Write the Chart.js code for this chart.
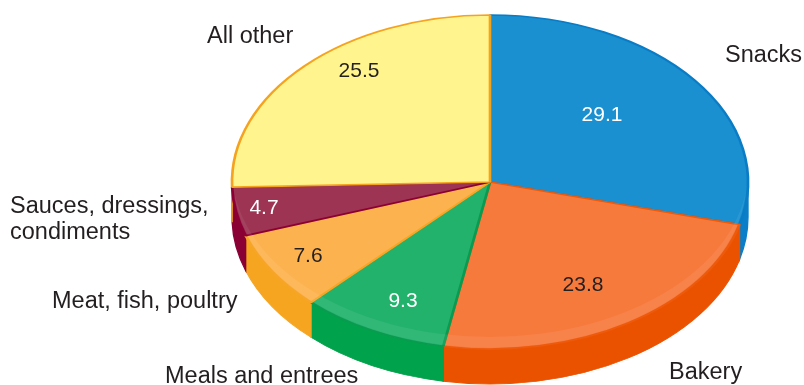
<!DOCTYPE html>
<html>
<head>
<meta charset="utf-8">
<script src="https://cdn.jsdelivr.net/npm/chart.js@4/dist/chart.umd.min.js"></script>
<style>
  html, body { margin: 0; padding: 0; background: #ffffff; }
  #wrap { position: relative; width: 804px; height: 385px; }
</style>
</head>
<body>
<div id="wrap"><canvas id="chart" width="804" height="385"></canvas></div>
<script>
// Market share by food category (percent)
const categories = ['Snacks', 'Bakery', 'Meals and entrees', 'Meat, fish, poultry', 'Sauces, dressings, condiments', 'All other'];
const shares = [29.1, 23.8, 9.3, 7.6, 4.7, 25.5];
const labelLines = [['Snacks'], ['Bakery'], ['Meals and entrees'], ['Meat, fish, poultry'], ['Sauces, dressings,', 'condiments'], ['All other']];

// Slice styling: top face, rim/border and side wall
const topColors  = ['#1a90d0', '#f77a3d', '#22b26c', '#fcb34f', '#9d3453', '#fff48d'];
const edgeColors = ['#0a7cc6', '#ee5a0c', '#0a9b50', '#f7a525', '#8c0036', '#f5a31f'];
const wallColors = ['#0a7ec8', '#eb5200', '#00a24b', '#f6a520', '#8a0035', '#f5a31f'];
const valueColors = ['#ffffff', '#231f20', '#ffffff', '#231f20', '#ffffff', '#231f20'];

// Tilted pie geometry (screen pixels)
const CX = 490, CY = 182, RX = 258, RY = 167, DEPTH = 35, SHEEN = 12;

// Text placement (screen pixels)
const valuePos = [[602, 115], [583, 285], [403, 301], [308, 256], [264, 208], [359, 71]];
const namePos  = [[725, 56], [669, 373], [165, 377], [52, 302], [10, 207], [207, 37]];
const TEXT = '#231f20';
const FONT = '"Liberation Sans", Arial, Helvetica, sans-serif';

const pie3d = {
  id: 'pie3d',
  beforeDatasetsDraw(chart) {
    const meta = chart.getDatasetMeta(0);
    const first = meta.data[0];
    const x = first.x, y = first.y, r = first.outerRadius;
    const ctx = chart.ctx;
    ctx.save();
    // tilt the round pie into an ellipse centred on the page layout
    ctx.translate(CX, CY);
    ctx.scale(RX / r, RY / r);
    ctx.translate(-x, -y);
    const d = DEPTH * r / RY;
    // side walls of the front half
    meta.data.forEach((arc, i) => {
      const s = Math.max(arc.startAngle, 0);
      const e = Math.min(arc.endAngle, Math.PI);
      if (e <= s) return;
      ctx.beginPath();
      ctx.arc(x, y, r, s, e);
      ctx.arc(x, y + d, r, e, s, true);
      ctx.closePath();
      ctx.fillStyle = wallColors[i];
      ctx.fill();
      ctx.strokeStyle = wallColors[i];
      ctx.lineWidth = 1;
      ctx.stroke();
    });
  },
  afterDatasetsDraw(chart) {
    const meta = chart.getDatasetMeta(0);
    const first = meta.data[0];
    const x = first.x, y = first.y, r = first.outerRadius;
    const ctx = chart.ctx;
    // faint bevel sheen along the front rim of the top face
    const s = SHEEN * r / RY;
    ctx.save();
    ctx.beginPath();
    ctx.arc(x, y, r - 1.5, 0, Math.PI * 2);
    ctx.clip();
    ctx.beginPath();
    ctx.arc(x, y, r + 2, 0, Math.PI * 2);
    ctx.arc(x, y - s, r, 0, Math.PI * 2, true);
    ctx.fillStyle = 'rgba(255,255,255,0.07)';
    ctx.fill('evenodd');
    ctx.restore();
    ctx.restore();
  },
  afterDraw(chart) {
    const ctx = chart.ctx;
    ctx.save();
    ctx.textBaseline = 'middle';
    ctx.font = '21px ' + FONT;
    ctx.textAlign = 'center';
    shares.forEach((v, i) => {
      ctx.fillStyle = valueColors[i];
      ctx.fillText(v.toFixed(1), valuePos[i][0], valuePos[i][1]);
    });
    ctx.font = '23.5px ' + FONT;
    ctx.fillStyle = TEXT;
    ctx.textAlign = 'left';
    labelLines.forEach((lines, i) => {
      const [lx, ly] = namePos[i];
      lines.forEach((t, k) => ctx.fillText(t, lx, ly + k * 26));
    });
    ctx.restore();
  }
};

new Chart(document.getElementById('chart'), {
  type: 'pie',
  data: {
    labels: categories,
    datasets: [{
      data: shares,
      backgroundColor: topColors,
      borderColor: edgeColors,
      borderWidth: 2,
      clip: false
    }]
  },
  options: {
    responsive: false,
    animation: false,
    layout: { padding: 0 },
    plugins: { legend: { display: false }, tooltip: { enabled: false } }
  },
  plugins: [pie3d]
});
</script>
</body>
</html>
